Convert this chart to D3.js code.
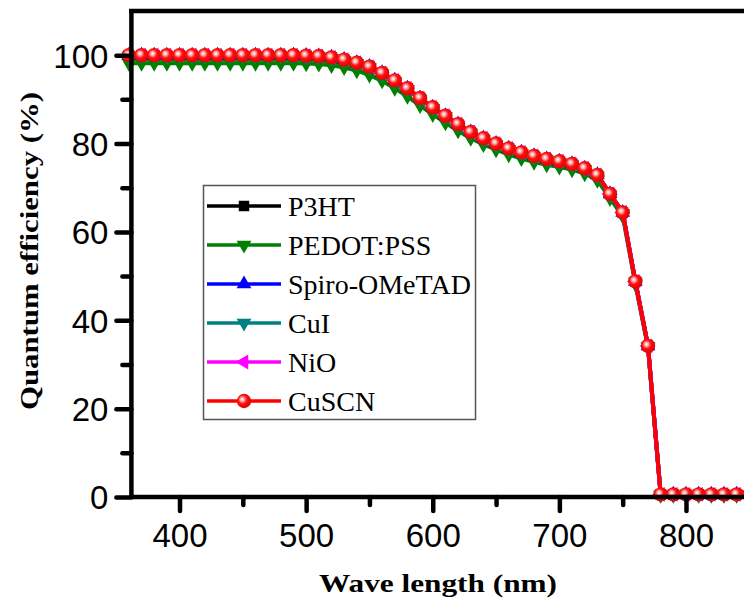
<!DOCTYPE html>
<html>
<head>
<meta charset="utf-8">
<script src="https://cdn.jsdelivr.net/npm/d3@7"></script>
<style>
  html, body { margin: 0; padding: 0; background: #fff; }
  svg { display: block; }
</style>
</head>
<body>
<svg id="chart" width="744" height="608"></svg>
<script>
// Wavelength grid (nm)
const wavelength = [360, 370, 380, 390, 400, 410, 420, 430, 440, 450,
                    460, 470, 480, 490, 500, 510, 520, 530, 540, 550,
                    560, 570, 580, 590, 600, 610, 620, 630, 640, 650,
                    660, 670, 680, 690, 700, 710, 720, 730, 740, 750,
                    760, 770, 780, 790, 800, 810, 820, 830, 840, 850];

// Quantum efficiency (%) for each hole-transport layer
const qeP3HT = [100, 100, 100, 100, 100, 100, 100, 100, 100, 100,
                100, 100, 100, 100, 99.9, 99.8, 99.5, 99.0, 98.3, 97.4,
                96.0, 94.3, 92.5, 90.3, 88.2, 86.3, 84.4, 82.6, 81.2, 80.0,
                78.9, 78.0, 77.2, 76.5, 76.0, 75.4, 74.4, 72.9, 68.6, 64.4,
                48.8, 34.2, 0.6, 0.6, 0.6, 0.6, 0.6, 0.6, 0.6, 0.6];
const qePEDOT = [98.2, 98.2, 98.2, 98.2, 98.2, 98.2, 98.2, 98.2, 98.2, 98.2,
                 98.2, 98.2, 98.2, 98.2, 98.1, 98.0, 97.7, 97.2, 96.5, 95.5,
                 94.2, 92.5, 90.7, 88.6, 86.6, 84.7, 82.9, 81.2, 79.8, 78.6,
                 77.5, 76.6, 75.8, 75.2, 74.7, 74.1, 73.2, 71.7, 67.6, 63.6,
                 48.2, 33.8, 0.4, 0.4, 0.4, 0.4, 0.4, 0.4, 0.4, 0.4];
const qeSpiro = [100, 100, 100, 100, 100, 100, 100, 100, 100, 100,
                 100, 100, 100, 100, 99.9, 99.8, 99.5, 99.0, 98.3, 97.4,
                 96.0, 94.3, 92.5, 90.3, 88.2, 86.3, 84.4, 82.6, 81.2, 80.0,
                 78.9, 78.0, 77.2, 76.5, 76.0, 75.4, 74.4, 72.9, 68.6, 64.4,
                 48.8, 34.2, 0.6, 0.6, 0.6, 0.6, 0.6, 0.6, 0.6, 0.6];
const qeCuI = [99.8, 99.8, 99.8, 99.8, 99.8, 99.8, 99.8, 99.8, 99.8, 99.8,
               99.8, 99.8, 99.8, 99.8, 99.7, 99.6, 99.3, 98.8, 98.1, 97.2,
               95.8, 94.1, 92.3, 90.1, 88.0, 86.1, 84.2, 82.4, 81.0, 79.8,
               78.7, 77.8, 77.0, 76.3, 75.8, 75.2, 74.2, 72.7, 68.4, 64.2,
               48.7, 34.1, 0.5, 0.5, 0.5, 0.5, 0.5, 0.5, 0.5, 0.5];
const qeNiO = [100, 100, 100, 100, 100, 100, 100, 100, 100, 100,
               100, 100, 100, 100, 99.9, 99.8, 99.5, 99.0, 98.3, 97.4,
               96.0, 94.3, 92.5, 90.3, 88.2, 86.3, 84.4, 82.6, 81.2, 80.0,
               78.9, 78.0, 77.2, 76.5, 76.0, 75.4, 74.4, 72.9, 68.6, 64.4,
               48.8, 34.2, 0.6, 0.6, 0.6, 0.6, 0.6, 0.6, 0.6, 0.6];
const qeCuSCN = [100, 100, 100, 100, 100, 100, 100, 100, 100, 100,
                 100, 100, 100, 100, 99.9, 99.8, 99.5, 99.0, 98.3, 97.4,
                 96.0, 94.3, 92.5, 90.3, 88.2, 86.3, 84.4, 82.6, 81.2, 80.0,
                 78.9, 78.0, 77.2, 76.5, 76.0, 75.4, 74.4, 72.9, 68.6, 64.4,
                 48.8, 34.2, 0.6, 0.6, 0.6, 0.6, 0.6, 0.6, 0.6, 0.6];

const seriesNames = ["P3HT", "PEDOT:PSS", "Spiro-OMeTAD", "CuI", "NiO", "CuSCN"];
const seriesValues = [qeP3HT, qePEDOT, qeSpiro, qeCuI, qeNiO, qeCuSCN];

// Axis ticks
const xTicks = [400, 500, 600, 700, 800];
const xMinorTicks = [450, 550, 650, 750];
const yTicks = [0, 20, 40, 60, 80, 100];
const yMinorTicks = [10, 30, 50, 70, 90];

// Styling per series
const colors = ["#000000", "#008000", "#0000ff", "#008080", "#ff00ff", "#ff0000"];
const shapes = ["square", "down", "up", "down", "left", "sphere"];

const svg = d3.select("#chart");

const x = d3.scaleLinear().domain([362, 850]).range([131.4, 749.3]);
const y = d3.scaleLinear().domain([0, 110]).range([497, 11]);

// Sphere shading for the circle markers
const defs = svg.append("defs");
const grad = defs.append("radialGradient")
  .attr("id", "sphere")
  .attr("cx", "42%").attr("cy", "42%").attr("r", "60%")
  .attr("fx", "38%").attr("fy", "38%");
grad.append("stop").attr("offset", "0%").attr("stop-color", "#ffffff");
grad.append("stop").attr("offset", "22%").attr("stop-color", "#ffb0b0");
grad.append("stop").attr("offset", "50%").attr("stop-color", "#ff1010");
grad.append("stop").attr("offset", "100%").attr("stop-color", "#e00000");

function drawMarker(g, shape, color, cx, cy) {
  if (shape === "sphere") {
    g.append("circle").attr("cx", cx).attr("cy", cy).attr("r", 7.2)
      .attr("fill", "url(#sphere)");
    return;
  }
  let type = d3.symbolTriangle, rot = 0, size = 95;
  if (shape === "square") { type = d3.symbolSquare; size = 110; }
  if (shape === "down") rot = 180;
  if (shape === "left") rot = -90;
  g.append("path")
    .attr("d", d3.symbol().type(type).size(size)())
    .attr("transform", `translate(${cx},${cy}) rotate(${rot})`)
    .attr("fill", color);
}

// Data curves
const line = d3.line().x((d, i) => x(wavelength[i])).y(d => y(d));
const plot = svg.append("g");
seriesValues.forEach((vals, s) => {
  const g = plot.append("g");
  g.append("path")
    .datum(vals)
    .attr("d", line)
    .attr("fill", "none")
    .attr("stroke", colors[s])
    .attr("stroke-width", 4)
    .attr("stroke-linejoin", "round");
  vals.forEach((v, i) => drawMarker(g, shapes[s], colors[s], x(wavelength[i]), y(v)));
});

// Axes
const tickFont = "'Liberation Sans', Arial, sans-serif";

const xAxis = svg.append("g").attr("transform", "translate(0,497)")
  .call(d3.axisBottom(x).tickValues(xTicks).tickSize(14).tickPadding(13).tickFormat(d3.format("d")));
const xMinor = svg.append("g").attr("transform", "translate(0,497)")
  .call(d3.axisBottom(x).tickValues(xMinorTicks).tickSize(8).tickFormat(""));
const yAxis = svg.append("g").attr("transform", "translate(131.4,0)")
  .call(d3.axisLeft(y).tickValues(yTicks).tickSize(15).tickPadding(8).tickFormat(d3.format("d")));
const yMinor = svg.append("g").attr("transform", "translate(131.4,0)")
  .call(d3.axisLeft(y).tickValues(yMinorTicks).tickSize(9).tickFormat(""));

[xAxis, xMinor, yAxis, yMinor].forEach(a => {
  a.select(".domain").remove();
  a.selectAll(".tick line").attr("stroke", "#000").attr("stroke-width", 4.5)
    .attr("stroke-linecap", "round");
  a.selectAll(".tick text").attr("fill", "#000")
    .style("font-family", tickFont).style("font-size", "33px");
});
xAxis.selectAll(".tick text").attr("dy", "0.71em");
yAxis.selectAll(".tick text").attr("dy", "0.36em");

// Frame: left spine, bottom spine, top border
svg.append("line").attr("x1", 131.4).attr("x2", 131.4).attr("y1", 11).attr("y2", 497)
  .attr("stroke", "#000").attr("stroke-width", 4.5);
svg.append("line").attr("x1", 131.4).attr("x2", 760).attr("y1", 497).attr("y2", 497)
  .attr("stroke", "#000").attr("stroke-width", 4.5);
svg.append("line").attr("x1", 129).attr("x2", 760).attr("y1", 11).attr("y2", 11)
  .attr("stroke", "#000").attr("stroke-width", 4.5);

// Axis titles
const titleFont = "'Liberation Serif', 'Times New Roman', serif";
svg.append("text")
  .attr("x", 438).attr("y", 592)
  .attr("text-anchor", "middle")
  .style("font-family", titleFont).style("font-weight", "bold").style("font-size", "26px")
  .attr("textLength", 238).attr("lengthAdjust", "spacingAndGlyphs")
  .text("Wave length (nm)");
svg.append("text")
  .attr("transform", "translate(38,251) rotate(-90)")
  .attr("text-anchor", "middle")
  .style("font-family", titleFont).style("font-weight", "bold").style("font-size", "26px")
  .attr("textLength", 318).attr("lengthAdjust", "spacingAndGlyphs")
  .text("Quantum efficiency (%)");

// Legend
const legend = svg.append("g");
legend.append("rect")
  .attr("x", 203.5).attr("y", 185.5).attr("width", 272).attr("height", 234)
  .attr("fill", "#fff").attr("stroke", "#555").attr("stroke-width", 1.5);
seriesNames.forEach((name, i) => {
  const cy = 206 + i * 39;
  const g = legend.append("g");
  g.append("line").attr("x1", 207).attr("x2", 281).attr("y1", cy).attr("y2", cy)
    .attr("stroke", colors[i]).attr("stroke-width", 3.5);
  drawMarker(g, shapes[i], colors[i], 244, cy);
  g.append("text")
    .attr("x", 288).attr("y", cy + 10)
    .style("font-family", titleFont).style("font-size", "28px")
    .attr("fill", "#000")
    .text(name);
});
</script>
</body>
</html>
